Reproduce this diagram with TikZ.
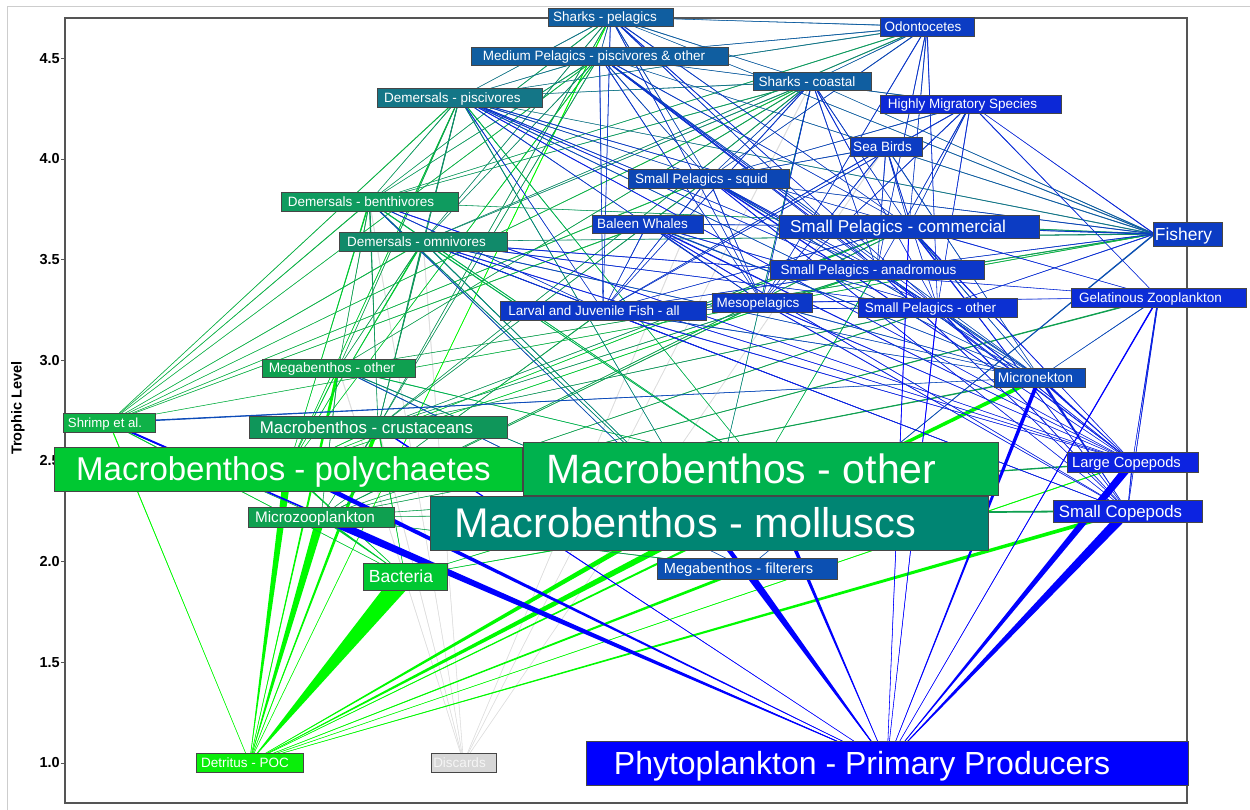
\documentclass[tikz,border=0pt]{standalone}
\usepackage{fontspec}
\setmainfont{Liberation Sans}
\usetikzlibrary{calc}
\pgfdeclarelayer{bg}
\pgfsetlayers{bg,main}
\definecolor{cSHP}{RGB}{16,94,160}
\definecolor{cDPS}{RGB}{20,118,135}
\definecolor{cODO}{RGB}{12,60,195}
\definecolor{cHMS}{RGB}{12,40,215}
\definecolor{cSQD}{RGB}{12,70,180}
\definecolor{cSPA}{RGB}{12,55,200}
\definecolor{cSPO}{RGB}{12,48,210}
\definecolor{cGEL}{RGB}{12,45,215}
\definecolor{cMNK}{RGB}{12,75,185}
\definecolor{cCOP}{RGB}{12,35,225}
\definecolor{cDBN}{RGB}{15,155,95}
\definecolor{cDOM}{RGB}{17,138,106}
\definecolor{cMGO}{RGB}{15,160,80}
\definecolor{cSHR}{RGB}{15,178,72}
\definecolor{cMCR}{RGB}{15,150,90}
\definecolor{cMPO}{RGB}{0,200,50}
\definecolor{cMOT}{RGB}{0,178,78}
\definecolor{cMML}{RGB}{0,133,115}
\definecolor{cMZO}{RGB}{15,160,80}
\definecolor{cMGF}{RGB}{12,80,178}
\definecolor{cDET}{RGB}{10,238,10}
\definecolor{cDETe}{RGB}{0,250,0}
\definecolor{cDIS}{RGB}{215,215,215}
\definecolor{cDISe}{RGB}{222,222,222}
\definecolor{disText}{RGB}{245,245,245}
\definecolor{cPHY}{RGB}{0,0,255}
\definecolor{frameGray}{RGB}{85,85,85}
\definecolor{outerGray}{RGB}{205,205,205}
\definecolor{boxBorder}{RGB}{70,70,70}
\newcommand\fwedge[4]{%
  \pgfmathsetmacro\hw{0.5*#3}%
  \fill[#4] (#1.center) -- ($(#2.center)!\hw pt!90:(#1.center)$) -- ($(#2.center)!\hw pt!-90:(#1.center)$) -- cycle;
  \draw[#4, line width=0.55pt] (#1.center) -- (#2.center);
}
\newcommand\links[3]{\foreach \pp/\ww in {#3}{\fwedge{#1}{\pp}{\ww}{#2}}}
% name, fill, cx, cy, width, height, font size, text, extra right padding
\newcommand\bx[9]{%
  \pgfmathsetmacro\capht{0.72*#7}%
  \node[lab, fill=#2, minimum width=#5pt, minimum height=#6pt, text height=\capht pt, font=\fontsize{#7}{#7}\selectfont] (#1) at (#3,#4) {#8\hspace*{#9pt}};}
\begin{document}
\begin{tikzpicture}[x=1pt,y=-1pt,
  lab/.style={draw=boxBorder, line width=0.8pt, text=white, inner sep=0pt, anchor=center, text depth=0pt},
  ticklab/.style={anchor=east, font=\bfseries\fontsize{14.5}{15}\selectfont, inner sep=0pt}]
\useasboundingbox (0,0) rectangle (1250,810);
% nodes
\bx{SHP}{cSHP}{610.5}{17}{125}{18}{13.5}{Sharks - pelagics}{11}
\bx{MPL}{cSHP}{599.5}{56}{257}{18}{13.5}{Medium Pelagics - piscivores \& other}{11}
\bx{SHC}{cSHP}{812}{81.5}{118}{18}{13.5}{Sharks - coastal}{10}
\bx{DPS}{cDPS}{459.5}{97.5}{165}{19}{13.5}{Demersals - piscivores}{14}
\bx{ODO}{cODO}{927}{26.5}{94}{19}{13.5}{Odontocetes}{8}
\bx{HMS}{cHMS}{970.5}{104}{181}{18}{13.5}{Highly Migratory Species}{16}
\bx{SBD}{cODO}{886}{146.5}{72}{19}{13.5}{Sea Birds}{7}
\bx{SQD}{cSQD}{708.5}{178.5}{161}{19}{13.5}{Small Pelagics - squid}{14}
\bx{BWH}{cODO}{647.5}{224}{111}{18}{13.5}{Baleen Whales}{10}
\bx{SPC}{cODO}{909}{226.5}{260}{23}{17.2}{Small Pelagics - commercial}{22}
\bx{FSH}{cODO}{1187.5}{234}{69}{24}{17.4}{Fishery}{8}
\bx{SPA}{cSPA}{877}{269.5}{214}{19}{13.5}{Small Pelagics - anadromous}{17}
\bx{DBN}{cDBN}{369.5}{201.5}{177}{19}{13.5}{Demersals - benthivores}{17}
\bx{DOM}{cDOM}{423}{241.5}{168}{19}{13.5}{Demersals - omnivores}{13}
\bx{LJF}{cSPA}{603}{310.5}{206}{19}{13.5}{Larval and Juvenile Fish - all}{18}
\bx{MES}{cSPA}{762}{302.5}{100}{19}{13.5}{Mesopelagics}{8}
\bx{SPO}{cSPO}{937.5}{307.5}{159}{19}{13.5}{Small Pelagics - other}{14}
\bx{GEL}{cGEL}{1158.5}{297.5}{175}{19}{13.5}{Gelatinous Zooplankton}{16}
\bx{MNK}{cMNK}{1039.5}{377.5}{91}{19}{13.8}{Micronekton}{8}
\bx{LCP}{cCOP}{1132.5}{462}{131}{20}{14.7}{Large Copepods}{12}
\bx{SCP}{cCOP}{1127.5}{511}{149}{22}{16.8}{Small Copepods}{14}
\bx{MGO}{cMGO}{338.5}{368}{153}{18}{13.7}{Megabenthos - other}{13}
\bx{SHR}{cSHR}{109}{422.5}{92}{19}{13.2}{Shrimp et al.}{8}
\bx{MCR}{cMCR}{378}{427}{258}{22}{16.9}{Macrobenthos - crustaceans}{23}
\bx{MPO}{cMPO}{288}{469}{468}{44}{33}{Macrobenthos - polychaetes}{9}
\bx{MOT}{cMOT}{760.5}{468.5}{475}{53}{41}{Macrobenthos - other}{38}
\bx{MML}{cMML}{709}{523}{558}{54}{41.5}{Macrobenthos - molluscs}{47}
\bx{MZO}{cMZO}{321}{517}{146}{20}{15.3}{Microzooplankton}{12}
\bx{BAC}{cMPO}{405}{576.5}{84}{27}{17.5}{Bacteria}{8}
\bx{MGF}{cMGF}{747}{568.5}{180}{21}{14.6}{Megabenthos - filterers}{17}
\bx{DET}{cDET}{249.5}{762.5}{107}{19}{13.5}{Detritus - POC}{9}
\node[lab, fill=cDIS, text=disText, minimum width=65pt, minimum height=19pt, text height=9.7pt, font=\fontsize{13.5}{13.5}\selectfont] (DIS) at (463.5,762.5) {Discards\hspace*{8pt}};
\bx{PHY}{cPHY}{887}{763}{602}{44}{32}{Phytoplankton - Primary Producers}{50}
\coordinate (FSHa) at ($(FSH.west)+(2,0)$);
% axis
\node[ticklab] (t10) at (60,763) {1.0};
\node[ticklab] (t15) at (60,662.4) {1.5};
\node[ticklab] (t20) at (60,561.7) {2.0};
\node[ticklab] (t30) at (60,360.4) {3.0};
\node[ticklab] (t35) at (60,259.7) {3.5};
\node[ticklab] (t40) at (60,159) {4.0};
\node[ticklab] (t45) at (60,58.4) {4.5};
\node[rotate=90, font=\bfseries\fontsize{14.5}{15}\selectfont, inner sep=0pt] (ylab) at (18,408) {Trophic Level};
\begin{pgfonlayer}{bg}
\fill[white] (0,0) rectangle (1250,810);
\node[ticklab] (t25) at (60,461) {2.5};
\draw[outerGray, line width=1pt] (7,810) -- (7,7) -- (1250,7);
\draw[frameGray, line width=1.2pt] (65,18) rectangle (1187,803);
\foreach \yy in {58.4,159,259.7,360.4,461,561.7,662.4,763} \draw[frameGray, line width=0.8pt] (61,\yy) -- (65,\yy);
% edges: prey -> predator, width at predator end
\links{DIS}{cDISe}{MGO/1, MCR/1, DBN/1, DOM/1, SHC/1, SBD/1, SQD/1}
\links{DET}{cDETe}{BAC/20, MZO/9, MPO/8, MOT/7, MML/7, MCR/4, MGO/3, MGF/3, SCP/4, MNK/4, SHR/1, LCP/1, SHP/1}
\links{BAC}{cMPO}{MPO/2, MOT/2, MML/2, MZO/3, MCR/1.5, SHR/1}
\links{MZO}{cMZO}{LCP/1.5, SCP/2, GEL/1.5, MNK/1.5, LJF/1, MES/1, SPO/1, SPC/1, MCR/1.5, SHR/1, MGO/1, MGF/1}
\links{MPO}{cMPO}{DBN/1.5, DOM/1.5, DPS/1, MPL/1, MGO/1, MCR/1, SPA/1, SPC/1}
\links{MOT}{cMOT}{DBN/1.2, DOM/1.2, DPS/1, MGO/1, SPA/1}
\links{MML}{cMML}{DBN/1.2, DOM/1.2, DPS/1, MGO/1, SHC/0.8}
\links{MCR}{cMCR}{DBN/1.5, DOM/1.5, DPS/1, SHC/1, SHP/0.8, MPL/0.8, SQD/1, SPC/1, SPA/1, SPO/1}
\links{MGO}{cMGO}{DPS/1, DBN/1, DOM/1, SHC/1, FSHa/1.2}
\links{SHR}{cSHR}{DPS/1, DBN/1, DOM/1, SHC/1, MPL/0.8, SQD/1, BWH/1, FSHa/0.8}
\links{DOM}{cDOM}{DPS/1, SHC/1, SHP/0.8, MPL/0.8, FSHa/1.2, ODO/1}
\links{DBN}{cDBN}{DPS/1, SHC/1, SHP/1, MPL/1, ODO/1, FSHa/1}
\links{DPS}{cDPS}{SHP/1, MPL/1, SHC/1, ODO/1, FSHa/1}
\links{SHC}{cSHP}{SHP/1, ODO/1, FSHa/1}
\links{MPL}{cSHP}{SHP/1, ODO/1, FSHa/1, HMS/1}
\links{SHP}{cSHP}{ODO/1, FSHa/1}
\links{MGF}{cMGF}{DBN/1, MGO/1, FSHa/1.5}
\links{LCP}{cCOP}{MNK/2.5, GEL/1.5, SQD/1.5, BWH/1.5, SPC/1.5, SPA/1, SPO/1.5, MES/1, LJF/1, MPL/1, DPS/1, DBN/1, DOM/1}
\links{SCP}{cCOP}{LCP/1.5, MNK/3, GEL/1.5, SQD/1, BWH/1, SPC/1.5, SPA/1, SPO/1.5, MES/1, LJF/1, DOM/1}
\links{MNK}{cMNK}{SHR/1.5, SQD/1.5, BWH/1.5, SPC/1.5, SPA/1, SPO/1, MES/1, LJF/1, MPL/1, DPS/1, DOM/1, SBD/1, GEL/1}
\links{GEL}{cGEL}{HMS/1, SPC/1, MES/1, DOM/1}
\links{LJF}{cSPA}{SHP/0.8, MPL/1, SHC/1, HMS/1, SBD/1, DPS/1, DBN/1, DOM/1, SQD/1, SPC/1, SPA/1, SPO/1, BWH/1}
\links{MES}{cSPA}{SHP/0.8, MPL/1, SHC/1, ODO/1, HMS/1, SBD/1, DPS/1, SQD/1, BWH/1}
\links{SPO}{cSPO}{SHP/1, MPL/1, SHC/1, ODO/1, HMS/1, SBD/1, DPS/1, DOM/1, SQD/1, BWH/1, FSHa/1}
\links{SPA}{cSPA}{SHP/1, MPL/1, SHC/1, ODO/1, HMS/1, SBD/1, DPS/1, SQD/1, FSHa/1}
\links{SPC}{cODO}{SHP/1, MPL/1, SHC/1, ODO/1, HMS/1, SBD/1, DPS/1, BWH/1, FSHa/1.5}
\links{SQD}{cSQD}{SHP/1, MPL/1, SHC/1, ODO/1, HMS/1, SBD/1, DPS/1, FSHa/1}
\links{HMS}{cHMS}{FSHa/1}
\links{PHY}{cPHY}{SCP/10, LCP/8, MZO/8, MPO/5, MOT/5, MML/5, MGF/5, MNK/4, GEL/1.5, SPO/1, SHR/2, MCR/1.5, SPC/1}
\end{pgfonlayer}
\end{tikzpicture}
\end{document}
